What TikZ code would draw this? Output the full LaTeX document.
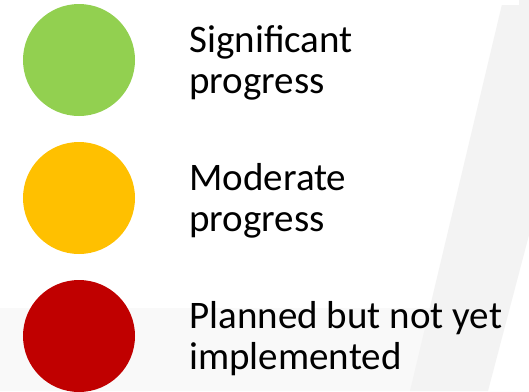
\documentclass[tikz,border=0pt]{standalone}
\usepackage{fontspec}
\setmainfont{Carlito}
\usetikzlibrary{positioning}
\definecolor{dotgreen}{RGB}{146, 208, 80}
\definecolor{dotorange}{RGB}{255, 192, 0}
\definecolor{dotred}{RGB}{192, 0, 0}
\definecolor{bandgrey}{RGB}{243, 243, 243}
\definecolor{stripgrey}{RGB}{249, 249, 249}

\begin{document}
\begin{tikzpicture}[x=1bp, y=-1bp,
  dot/.style={circle, inner sep=0pt, minimum size=112bp},
  legend/.style={align=left, inner sep=0pt, font=\fontsize{39bp}{40bp}\selectfont}]
\useasboundingbox[fill=white] (0,0) rectangle (529,391);
% faint slide background
\fill[stripgrey] (0,308) rectangle (430,391);
\fill[bandgrey] (503,0) -- (529,0) -- (529,235) -- (488,391) -- (410,391) -- cycle;
\fill[white] (440,0) rectangle (519,5);

\node[dot, fill=dotgreen] (greendot) at (79,60) {};
\node[dot, fill=dotorange] (orangedot) at (79,198) {};
\node[dot, fill=dotred] (reddot) at (79,336) {};

\node[legend, right=54bp of greendot, yshift=-3bp] (greenlabel) {Significant\\[1bp]progress};
\node[legend, right=54bp of orangedot, yshift=-3bp] (orangelabel) {Moderate\\[1bp]progress};
\node[legend, right=54bp of reddot, yshift=-3bp] (redlabel) {Planned but not yet\\[1bp]implemented};
\end{tikzpicture}
\end{document}
